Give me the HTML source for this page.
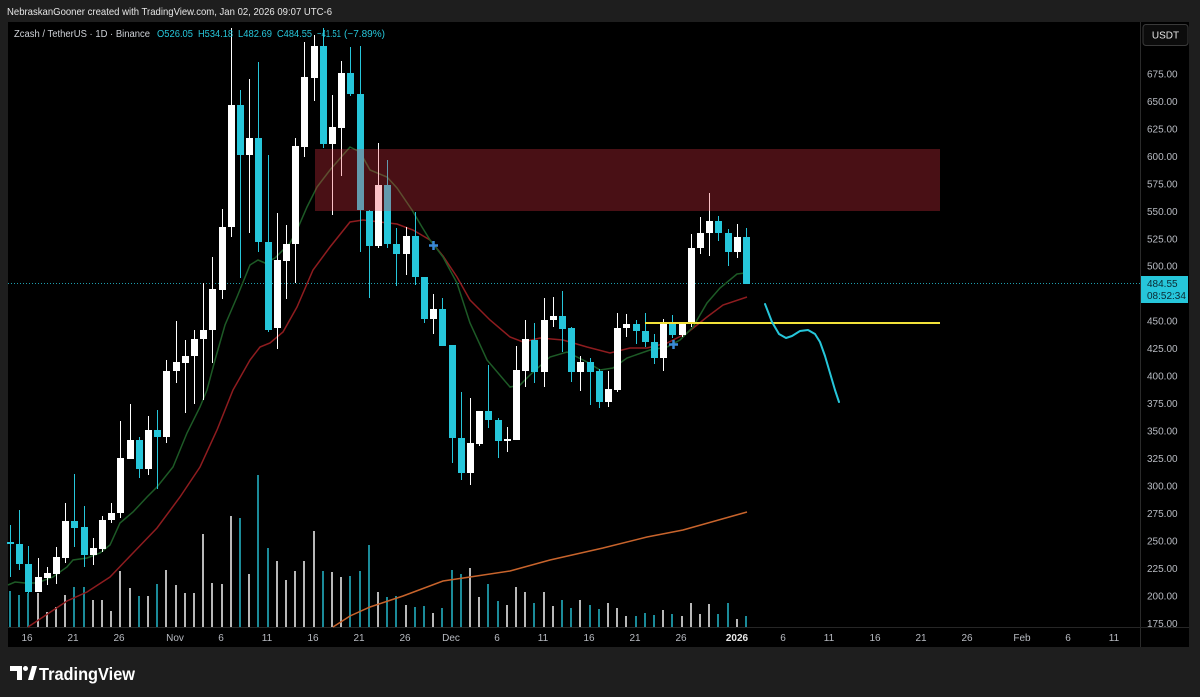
<!DOCTYPE html>
<html><head><meta charset="utf-8">
<style>
html,body{margin:0;padding:0;background:#1e1e1e;width:1200px;height:697px;overflow:hidden}
svg{display:block}
text{font-family:"Liberation Sans",sans-serif}
</style></head>
<body>
<svg id="s" width="1200" height="697" viewBox="0 0 1200 697" xmlns="http://www.w3.org/2000/svg">
<rect x="0" y="0" width="1200" height="697" fill="#1e1e1e"/>
<rect x="8" y="22" width="1181" height="625" fill="#000"/>
<line x1="1140.5" y1="22" x2="1140.5" y2="647" stroke="#2a2a2a" stroke-width="1"/>
<line x1="8" y1="627.5" x2="1189" y2="627.5" stroke="#262626" stroke-width="1"/>

<g id="vol"></g>
<line x1="8" y1="283.5" x2="1140" y2="283.5" stroke="#26c6da" stroke-width="1" stroke-dasharray="1 2" opacity="0.8"/>
<polyline fill="none" stroke="#c8642c" stroke-width="1.5" points="333,627 350,616 370,607 403,596 443,581 470,577 510,571 550,560 603,548 647,537 683,530 747,512"/>
<polyline fill="none" stroke="#8e1c1f" stroke-width="1.5" points="28,627 67,601 87,592 110,577 133,553 157,528 180,497 200,467 217,430 233,390 250,360 260,347 270,343 283,332 297,307 313,270 330,247 350,222 363,220 380,222 397,224 413,230 430,240 443,256 457,277 470,300 490,320 510,337 523,342 540,338 563,340 587,347 610,353 630,348 647,348 667,343 687,333 707,317 723,305 747,297"/>
<polyline fill="none" stroke="#1d5a26" stroke-width="1.5" points="8,585 15,582 25,583 37,583 53,577 67,567 73,560 87,558 100,553 110,545 120,523 133,512 147,497 157,487 173,467 187,433 200,407 207,390 215,360 225,325 237,297 250,265 258,260 265,263 275,258 290,243 297,230 307,207 317,187 330,170 343,155 350,147 360,152 370,170 387,177 397,188 412,210 422,227 430,240 443,257 457,283 470,323 487,360 510,387 520,385 530,375 550,357 567,352 587,362 600,370 613,368 627,358 650,350 667,347 680,340 693,327 707,303 720,288 737,274 745,273"/>
<g id="candles"></g>

<rect x="315" y="149" width="625" height="62" fill="#F23645" opacity="0.3"/>
<line x1="645" y1="323" x2="940" y2="323" stroke="#f2e23a" stroke-width="2"/>
<polyline fill="none" stroke="#26c6da" stroke-width="2" stroke-linejoin="round" stroke-linecap="round" points="765,304 772,322 779,334 786,338 792,336 800,331 808,330 815,334 820,342 825,356 830,373 835,390 839,402"/>
<g stroke="#3a8ad6" stroke-width="2.5">
<line x1="429" y1="245.5" x2="438" y2="245.5"/><line x1="433.5" y1="241" x2="433.5" y2="250"/>
<line x1="669" y1="344.5" x2="678" y2="344.5"/><line x1="673.5" y1="340" x2="673.5" y2="349"/>
</g>

<!-- header -->
<text x="7" y="15" font-size="10.5" fill="#e6e6e6" textLength="325" lengthAdjust="spacingAndGlyphs">NebraskanGooner created with TradingView.com, Jan 02, 2026 09:07 UTC-6</text>
<g font-size="10">
<text x="14" y="37" fill="#cfd2d8" textLength="136" lengthAdjust="spacingAndGlyphs">Zcash / TetherUS · 1D · Binance</text>
<text x="157" y="37" fill="#26c6da" textLength="36" lengthAdjust="spacingAndGlyphs">O526.05</text>
<text x="198" y="37" fill="#26c6da" textLength="35" lengthAdjust="spacingAndGlyphs">H534.18</text>
<text x="238" y="37" fill="#26c6da" textLength="34" lengthAdjust="spacingAndGlyphs">L482.69</text>
<text x="277" y="37" fill="#26c6da" textLength="35" lengthAdjust="spacingAndGlyphs">C484.55</text>
<text x="317" y="37" fill="#26c6da" textLength="24" lengthAdjust="spacingAndGlyphs">−41.51</text>
<text x="344" y="37" fill="#26c6da" textLength="41" lengthAdjust="spacingAndGlyphs">(−7.89%)</text>
</g>

<!-- price axis -->
<rect x="1143" y="24.5" width="45" height="21" rx="3" fill="#0c0c0c" stroke="#3a3a3a"/>
<text x="1165.5" y="38.5" font-size="10" fill="#e8e8e8" text-anchor="middle">USDT</text>
<g font-size="10" fill="#b8bbc2">
<text x="1147" y="77.5">675.00</text>
<text x="1147" y="105">650.00</text>
<text x="1147" y="132.5">625.00</text>
<text x="1147" y="160">600.00</text>
<text x="1147" y="187.5">575.00</text>
<text x="1147" y="215">550.00</text>
<text x="1147" y="242.5">525.00</text>
<text x="1147" y="269.5">500.00</text>
<text x="1147" y="324.5">450.00</text>
<text x="1147" y="352">425.00</text>
<text x="1147" y="379.5">400.00</text>
<text x="1147" y="407">375.00</text>
<text x="1147" y="434.5">350.00</text>
<text x="1147" y="462">325.00</text>
<text x="1147" y="489.5">300.00</text>
<text x="1147" y="517">275.00</text>
<text x="1147" y="544.5">250.00</text>
<text x="1147" y="572">225.00</text>
<text x="1147" y="599.5">200.00</text>
<text x="1147" y="627">175.00</text>
</g>
<rect x="1141" y="276" width="47" height="27" fill="#26c6da"/>
<text x="1147" y="287" font-size="10" fill="#0b2a33">484.55</text>
<text x="1147" y="299" font-size="10" fill="#0b2a33">08:52:34</text>

<!-- time axis -->
<g font-size="10" fill="#b8bbc2" text-anchor="middle">
<text x="27" y="641">16</text>
<text x="73" y="641">21</text>
<text x="119" y="641">26</text>
<text x="175" y="641">Nov</text>
<text x="221" y="641">6</text>
<text x="267" y="641">11</text>
<text x="313" y="641">16</text>
<text x="359" y="641">21</text>
<text x="405" y="641">26</text>
<text x="451" y="641">Dec</text>
<text x="497" y="641">6</text>
<text x="543" y="641">11</text>
<text x="589" y="641">16</text>
<text x="635" y="641">21</text>
<text x="681" y="641">26</text>
<text x="737" y="641" fill="#e8e8e8" font-weight="bold">2026</text>
<text x="783" y="641">6</text>
<text x="829" y="641">11</text>
<text x="875" y="641">16</text>
<text x="921" y="641">21</text>
<text x="967" y="641">26</text>
<text x="1022" y="641">Feb</text>
<text x="1068" y="641">6</text>
<text x="1114" y="641">11</text>
</g>

<!-- logo -->
<g fill="#ffffff">
<path d="M10 666 h12 v14 h-5 v-9 h-7z"/>
<circle cx="25.5" cy="668.5" r="2.5"/>
<path d="M28 680 L32 666 L37 666 L33 680z"/>
</g>
<text x="39" y="680" font-size="17.5" font-weight="bold" fill="#ffffff" textLength="96" lengthAdjust="spacingAndGlyphs">TradingView</text>
</svg>

<script>
(function(){
var NS="http://www.w3.org/2000/svg";
var d=[
[542,544,525,577,0],[544,564,510,570,0],[564,592,546,593,0],[577,592,558,592,1],[573,578,567,585,1],
[557,574,547,584,1],[521,558,503,563,1],[521,528,474,547,0],[527,555,506,567,0],[548,555,538,565,1],
[520,549,516,552,1],[513,520,503,523,1],[458,513,421,518,1],[440,459,404,459,1],[440,469,437,478,0],
[430,469,416,475,1],[430,437,410,489,0],[371,437,360,443,1],[362,371,321,383,1],[356,363,340,413,1],
[339,356,330,404,1],[330,339,283,400,1],[289,330,257,363,1],[227,290,209,299,1],[105,227,28,237,1],
[105,155,90,278,0],[138,155,79,233,1],[138,242,62,252,0],[242,330,155,332,0],[260,328,213,349,1],
[244,261,225,299,1],[146,244,138,283,1],[77,147,42,157,1],[46,78,35,101,1],[46,144,28,148,0],
[127,144,95,215,1],[73,128,61,176,1],[73,94,47,96,0],[94,210,46,252,0],[211,246,210,298,0],
[185,246,143,248,1],[185,244,160,248,0],[244,254,228,286,0],[236,254,227,275,1],[236,277,212,285,0],
[277,319,277,323,0],[309,319,294,334,1],[309,346,298,346,0],[345,438,345,463,0],[438,473,392,480,0],
[443,473,398,485,1],[411,444,411,446,1],[411,420,365,428,0],[420,441,418,458,0],[439,441,427,452,1],
[370,440,346,440,1],[339,371,320,387,1],[340,372,323,383,0],[320,372,298,387,1],[316,320,297,327,1],
[316,329,291,352,0],[328,372,327,382,0],[362,372,356,391,1],[362,372,358,405,0],[371,402,369,408,0],
[389,402,371,407,1],[328,390,313,392,1],[324,328,314,337,1],[324,331,320,344,0],[331,342,313,347,0],
[342,358,334,364,0],[323,358,319,371,1],[323,335,315,338,0],[323,335,322,337,1],[248,323,234,327,1],
[233,248,217,254,1],[221,233,193,256,1],[221,233,216,241,0],[233,252,229,266,0],[237,252,224,258,1],
[237,284,228,284,0]];
var v=[591,595,593,593,612,607,595,587,587,600,600,611,571,588,596,596,584,570,585,593,593,534,583,584,516,518,574,475,548,561,580,571,561,531,571,572,577,576,571,545,592,597,596,605,607,606,613,608,570,574,568,597,584,601,605,587,592,603,592,606,600,608,600,605,609,603,608,616,616,613,615,610,614,616,603,614,604,614,603,619,616];
var cg=document.getElementById("candles"),vg=document.getElementById("vol");
function el(n,a,p){var e=document.createElementNS(NS,n);for(var k in a)e.setAttribute(k,a[k]);p.appendChild(e);return e;}
for(var i=0;i<d.length;i++){
  var x=Math.round(10+9.2*i), c=d[i][4]?"#ffffff":"#26c6da";
  el("rect",{x:x-1,y:v[i],width:2,height:627-v[i],fill:c,opacity:d[i][4]?0.72:0.7},vg);
  el("rect",{x:x,y:d[i][2],width:1,height:d[i][3]-d[i][2],fill:c},cg);
  var h=Math.max(1.5,d[i][1]-d[i][0]);
  el("rect",{x:x-3,y:d[i][0],width:7,height:h,fill:c},cg);
}
})();
</script>
</body></html>
